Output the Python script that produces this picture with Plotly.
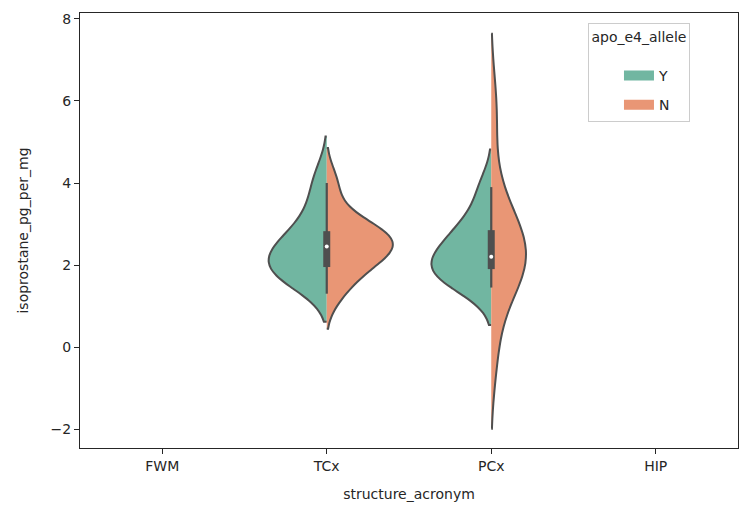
import numpy as np
import plotly.graph_objects as go

# ---- data ----
categories = ["FWM", "TCx", "PCx", "HIP"]
hue_levels = ["Y", "N"]

tcx_y = [1.6, 1.7, 1.8, 1.95, 2.15, 2.3, 2.45, 2.65, 2.95, 3.5, 4.15]
tcx_n = [1.3, 1.75, 1.95, 2.2, 2.35, 2.45, 2.55, 2.65, 2.75, 2.9, 3.2, 4.0]
pcx_y = [1.45, 1.6, 1.8, 1.9, 2.0, 2.2, 2.4, 2.6, 2.85, 3.2, 3.9]
pcx_n = [-0.1, 1.6, 1.9, 2.05, 2.15, 2.3, 2.5, 2.9, 3.6, 5.75]

y_ticks = [-2, 0, 2, 4, 6, 8]

GREEN = "#71b6a1"
ORANGE = "#e99675"
GRAY = "#4f4f4f"
AX = "#262626"
HUE_COLORS = {"Y": GREEN, "N": ORANGE}


def scott_bw(v):
    v = np.asarray(v, dtype=float)
    return v.std(ddof=1) * len(v) ** (-1 / 5)


groups = [("TCx", "Y", tcx_y), ("TCx", "N", tcx_n),
          ("PCx", "Y", pcx_y), ("PCx", "N", pcx_n)]

fig = go.Figure()
for cat, hue, vals in groups:
    xi = categories.index(cat)
    fig.add_trace(go.Violin(
        x=[xi] * len(vals), y=vals,
        side="negative" if hue == "Y" else "positive",
        scalegroup="all", scalemode="width",
        spanmode="soft", bandwidth=scott_bw(vals),
        points=False, box_visible=False, meanline_visible=False,
        fillcolor=HUE_COLORS[hue], opacity=1,
        line=dict(color=GRAY, width=2),
        name=hue, legendgroup=hue, showlegend=False,
        hoverinfo="skip",
    ))

# inner box (seaborn style) on combined data of each category
for cat in ["TCx", "PCx"]:
    xi = categories.index(cat)
    data = np.array([v for c, h, vals in groups if c == cat for v in vals])
    q25, q50, q75 = np.percentile(data, [25, 50, 75])
    lim = 1.5 * (q75 - q25)
    h1 = data[data >= q25 - lim].min()
    h2 = data[data <= q75 + lim].max()
    fig.add_trace(go.Scatter(x=[xi, xi], y=[h1, h2], mode="lines",
                             line=dict(color=GRAY, width=2.2),
                             showlegend=False, hoverinfo="skip"))
    fig.add_trace(go.Scatter(x=[xi, xi], y=[q25, q75], mode="lines",
                             line=dict(color=GRAY, width=7),
                             showlegend=False, hoverinfo="skip"))
    fig.add_trace(go.Scatter(x=[xi], y=[q50], mode="markers",
                             marker=dict(color="white", size=4),
                             showlegend=False, hoverinfo="skip"))

# legend entries (patch-like)
for hue in hue_levels:
    fig.add_trace(go.Scatter(x=[None], y=[None], mode="lines",
                             line=dict(color=HUE_COLORS[hue], width=13),
                             name=hue, legendgroup=hue, showlegend=True,
                             hoverinfo="skip"))

axis_common = dict(showline=True, mirror=True, linecolor=AX, linewidth=1.2,
                   ticks="outside", ticklen=5, tickwidth=1.2, tickcolor=AX,
                   showgrid=False, zeroline=False,
                   tickfont=dict(size=14, color=AX))

fig.update_layout(
    width=744, height=511,
    margin=dict(l=80, r=6, t=13, b=63),
    plot_bgcolor="white", paper_bgcolor="white",
    violinmode="overlay", violingap=0.2, violingroupgap=0,
    font=dict(family="DejaVu Sans", size=14, color=AX),
    xaxis=dict(range=[-0.5, 3.5], tickvals=list(range(len(categories))),
               ticktext=categories,
               title=dict(text="structure_acronym", font=dict(size=14), standoff=16),
               **axis_common),
    yaxis=dict(range=[-2.463, 8.146], tickvals=y_ticks,
               title=dict(text="isoprostane_pg_per_mg", font=dict(size=14), standoff=18),
               **axis_common),
    legend=dict(title=dict(text="apo_e4_allele<br> ", side="top center",
                           font=dict(size=14, color=AX)),
                x=0.772, y=0.978, xanchor="left", yanchor="top",
                bordercolor="#cccccc", borderwidth=1, bgcolor="white",
                indentation=30, tracegroupgap=8,
                font=dict(size=14, color=AX)),
)

fig.write_html("out.html", config={"displayModeBar": False},
               post_script="document.body.style.margin='0px';")
